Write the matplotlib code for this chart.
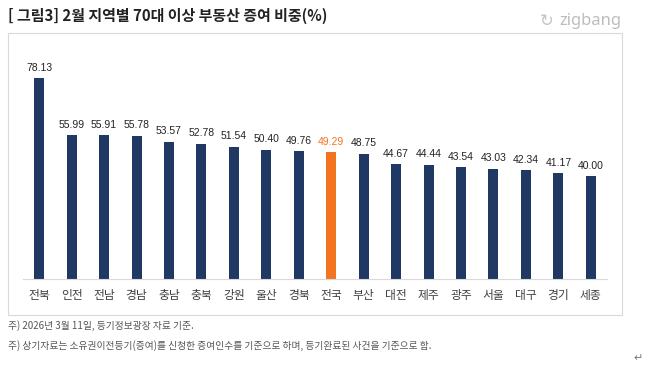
import matplotlib.pyplot as plt
from matplotlib.patches import Rectangle

plt.rcParams['font.family'] = ['Noto Sans CJK KR', 'DejaVu Sans']

regions = ['전북', '인전', '전남', '경남', '충남', '충북', '강원', '울산', '경북',
           '전국', '부산', '대전', '제주', '광주', '서울', '대구', '경기', '세종']
shares = [78.13, 55.99, 55.91, 55.78, 53.57, 52.78, 51.54, 50.40, 49.76,
          49.29, 48.75, 44.67, 44.44, 43.54, 43.03, 42.34, 41.17, 40.00]
highlight = '전국'

navy = '#203864'
orange = '#F4731F'

fig = plt.figure(figsize=(6.58, 3.66), dpi=100)
fig.patch.set_facecolor('white')

# chart panel border
fig.patches.append(Rectangle((8 / 658, 1 - 315 / 366), 614 / 658, 282 / 366,
                             transform=fig.transFigure, fill=False,
                             edgecolor='#D9D9D9', linewidth=0.8))

ax = fig.add_axes([23 / 658, 1 - 279 / 366, 584 / 658, 231 / 366])
x = range(len(regions))
colors = [orange if r == highlight else navy for r in regions]
bars = ax.bar(x, shares, width=0.31, color=colors)

for i, v in enumerate(shares):
    c = orange if regions[i] == highlight else '#222222'
    ax.annotate('%.2f' % v, (i, v), xytext=(0, 4), textcoords='offset points',
                ha='center', va='bottom', fontsize=7.5, color=c,
                family=['Liberation Sans', 'DejaVu Sans'])

ax.set_xlim(-0.5, len(regions) - 0.5)
ax.set_ylim(0, 90)
ax.set_xticks(list(x))
ax.set_xticklabels(regions, fontsize=8.5, color='#404040')
ax.tick_params(axis='x', length=0, pad=7)
ax.set_yticks([])
for s in ['top', 'right', 'left']:
    ax.spines[s].set_visible(False)
ax.spines['bottom'].set_color('#D9D9D9')
ax.spines['bottom'].set_linewidth(0.8)

fig.text(8 / 658, 1 - 16 / 366, '[ 그림3] 2월 지역별 70대 이상 부동산 증여 비중(%)',
         fontsize=10.8, fontweight='bold', color='#222222', va='center')
# zigbang logo
fig.text(554 / 658, 1 - 21 / 366, '↻', fontsize=12, color='#C4C4C4',
         ha='right', va='center', family=['DejaVu Sans'])
fig.text(621 / 658, 1 - 21 / 366, 'zigbang', fontsize=12, fontweight='bold',
         color='#BDBDBD', ha='right', va='center',
         family=['Noto Sans', 'DejaVu Sans'])

fig.text(8 / 658, 1 - 326 / 366, '주) 2026년 3월 11일, 등기정보광장 자료 기준.',
         fontsize=7, color='#555555', va='center')
fig.text(8 / 658, 1 - 346 / 366,
         '주) 상기자료는 소유권이전등기(증여)를 신청한 증여인수를 기준으로 하며, 등기완료된 사건을 기준으로 함.',
         fontsize=7, color='#555555', va='center')
fig.text(633 / 658, 1 - 358 / 366, '↵', fontsize=8, color='#777777',
         va='center', family=['DejaVu Sans'])

fig.savefig('out.png', dpi=100)
